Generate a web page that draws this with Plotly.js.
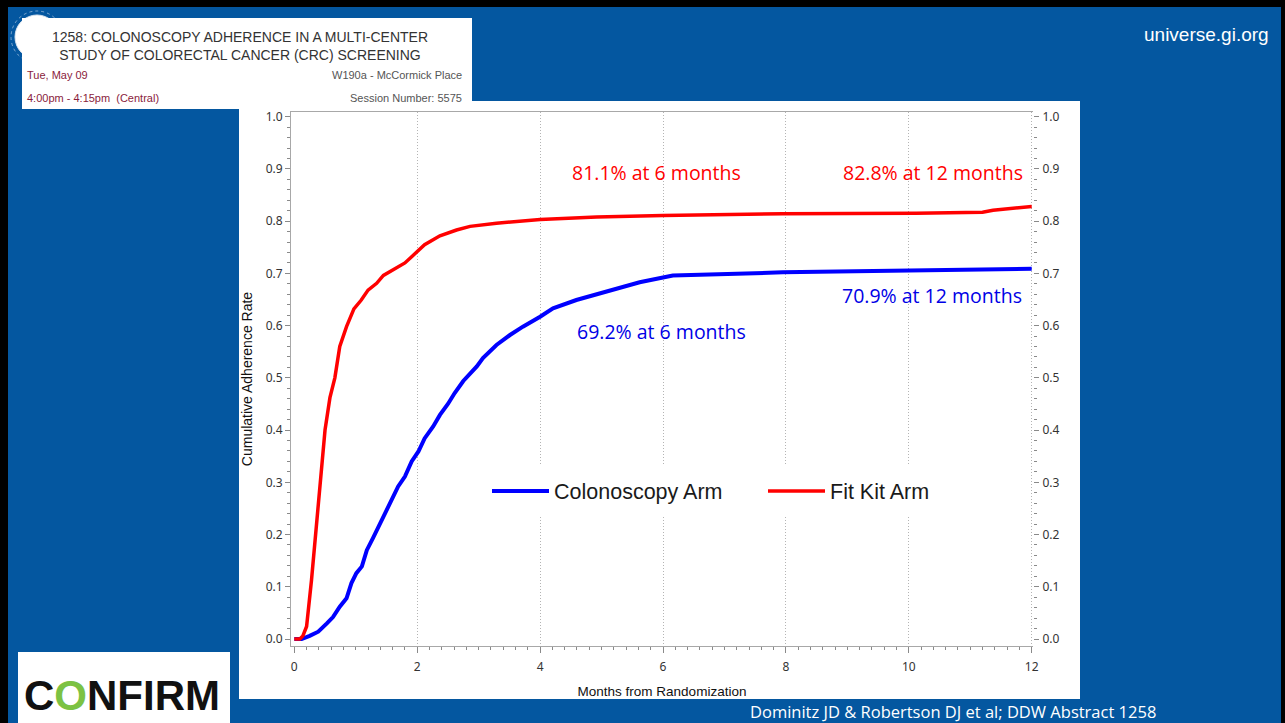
<!DOCTYPE html>
<html>
<head>
<meta charset="utf-8">
<script src="https://cdn.plot.ly/plotly-3.0.1.min.js"></script>
<style>
  html, body { margin: 0; padding: 0; background: #0457a0; }
  #chart { width: 1285px; height: 723px; }
</style>
</head>
<body>
<div id="chart"></div>
<script>
// ---- Data ----
const colonoscopyMonths = [0, 0.12, 0.25, 0.39, 0.53, 0.63, 0.74, 0.85, 0.93, 1.01, 1.10, 1.18, 1.28, 1.37, 1.50, 1.61, 1.69, 1.80, 1.91, 2.02, 2.12, 2.26, 2.37, 2.50, 2.61, 2.75, 2.97, 3.07, 3.29, 3.51, 3.72, 4.00, 4.21, 4.59, 4.92, 5.24, 5.62, 6.00, 6.16, 7.95, 10.12, 12.0];
const colonoscopyRate   = [0, 0, 0.006, 0.014, 0.030, 0.042, 0.062, 0.078, 0.107, 0.126, 0.139, 0.170, 0.193, 0.215, 0.247, 0.270, 0.292, 0.311, 0.340, 0.359, 0.384, 0.407, 0.429, 0.450, 0.471, 0.494, 0.522, 0.538, 0.563, 0.582, 0.598, 0.617, 0.633, 0.649, 0.660, 0.672, 0.683, 0.692, 0.696, 0.702, 0.706, 0.709];

const fitKitMonths = [0, 0.09, 0.14, 0.20, 0.28, 0.37, 0.445, 0.50, 0.58, 0.66, 0.74, 0.85, 0.97, 1.09, 1.20, 1.34, 1.45, 1.66, 1.80, 1.91, 1.99, 2.12, 2.37, 2.64, 2.86, 3.29, 4.00, 4.92, 6.00, 7.95, 10.12, 11.20, 11.37, 11.64, 12.0];
const fitKitRate   = [0, 0, 0.006, 0.024, 0.113, 0.228, 0.337, 0.400, 0.462, 0.500, 0.560, 0.598, 0.632, 0.649, 0.668, 0.681, 0.696, 0.710, 0.720, 0.732, 0.741, 0.755, 0.772, 0.783, 0.790, 0.796, 0.803, 0.808, 0.811, 0.814, 0.815, 0.817, 0.821, 0.824, 0.828];

const seriesNames = ["Colonoscopy Arm", "Fit Kit Arm"];
const xTickVals = [0, 2, 4, 6, 8, 10, 12];
const gridVals = [2, 4, 6, 8, 10, 12];

const calloutText  = ["81.1% at 6 months", "82.8% at 12 months", "69.2% at 6 months", "70.9% at 12 months"];
const calloutX     = [5.90, 11.89, 5.97, 11.87];
const calloutY     = [0.894, 0.894, 0.588, 0.657];

const headerTitle = "1258: COLONOSCOPY ADHERENCE IN A MULTI-CENTER<br>STUDY OF COLORECTAL CANCER (CRC) SCREENING";

// ---- Geometry helpers (pixel -> paper) ----
const W = 1285, H = 723;
const M = {l: 291, r: 252, t: 112, b: 77};
const PW = W - M.l - M.r, PH = H - M.t - M.b;
const px = x => (x - M.l) / PW;
const py = y => (H - M.b - y) / PH;

const xRange = [-0.0537, 12.021];
const yRange = [-0.0134, 1.009];

const axisGray = '#a8a8a8';
const tickGray = '#8a8a8a';
const tickFont = {family: 'Noto Sans, sans-serif', size: 12, color: '#333333'};

const traces = [
  {x: colonoscopyMonths, y: colonoscopyRate, name: seriesNames[0], type: 'scatter', mode: 'lines',
   line: {color: '#0000ff', width: 4}, hoverinfo: 'skip'},
  {x: fitKitMonths, y: fitKitRate, name: seriesNames[1], type: 'scatter', mode: 'lines',
   line: {color: '#ff0000', width: 3.5}, hoverinfo: 'skip'},
  {x: [0], y: [0], xaxis: 'x', yaxis: 'y2', mode: 'lines', showlegend: false, hoverinfo: 'skip', line: {width: 0}},
  {x: [0], y: [0], xaxis: 'x2', yaxis: 'y', mode: 'lines', showlegend: false, hoverinfo: 'skip', line: {width: 0}}
];

function rect(x0, y0, x1, y1, fill, layer) {
  return {type: 'rect', xref: 'paper', yref: 'paper', x0: px(x0), x1: px(x1), y0: py(y1), y1: py(y0),
          fillcolor: fill, line: {width: 0}, layer: layer || 'below'};
}

const shapes = [
  // partly hidden round emblem at the top-left
  {type: 'circle', xref: 'paper', yref: 'paper', x0: px(11), x1: px(63), y0: py(63), y1: py(11),
   fillcolor: 'rgba(0,0,0,0)', line: {color: 'rgba(200,215,235,0.6)', width: 1, dash: 'dot'}, layer: 'below'},
  {type: 'circle', xref: 'paper', yref: 'paper', x0: px(15), x1: px(59), y0: py(59), y1: py(15),
   fillcolor: '#ffffff', line: {color: '#dde6f0', width: 1}, layer: 'below'},
  rect(239, 101, 1080, 699, '#ffffff'),
  rect(22, 18, 472, 109, '#ffffff'),
  rect(18, 652, 230, 723, '#ffffff'),
  rect(0, 0, 1285, 7, '#000000'),
  rect(0, 0, 8, 723, '#000000'),
  rect(1281, 0, 1285, 723, '#000000'),
  // white panel behind legend (covers grid dots)
  rect(478, 466, 950, 516, '#ffffff', 'above')
];

const arial = 'Liberation Sans, Arial, sans-serif';
const calibri = 'Open Sans, sans-serif';

const annotations = [
  {xref: 'paper', yref: 'paper', x: px(240), y: py(46), text: headerTitle, showarrow: false,
   xanchor: 'center', yanchor: 'middle', align: 'center', font: {family: arial, size: 14, color: '#333333'}},
  {xref: 'paper', yref: 'paper', x: px(25), y: py(75), text: 'Tue, May 09', showarrow: false,
   xanchor: 'left', yanchor: 'middle', font: {family: arial, size: 11, color: '#8a1c3c'}},
  {xref: 'paper', yref: 'paper', x: px(25), y: py(98), text: '4:00pm - 4:15pm  (Central)', showarrow: false,
   xanchor: 'left', yanchor: 'middle', font: {family: arial, size: 11, color: '#8a1c3c'}},
  {xref: 'paper', yref: 'paper', x: px(464), y: py(75), text: 'W190a - McCormick Place', showarrow: false,
   xanchor: 'right', yanchor: 'middle', font: {family: arial, size: 11, color: '#555555'}},
  {xref: 'paper', yref: 'paper', x: px(464), y: py(98), text: 'Session Number: 5575', showarrow: false,
   xanchor: 'right', yanchor: 'middle', font: {family: arial, size: 11, color: '#555555'}},
  {xref: 'paper', yref: 'paper', x: px(1271), y: py(34), text: 'universe.gi.org', showarrow: false,
   xanchor: 'right', yanchor: 'middle', font: {family: arial, size: 19, color: '#ffffff'}},
  {xref: 'paper', yref: 'paper', x: px(1157), y: py(723), text: 'Dominitz JD &amp; Robertson DJ et al; DDW Abstract 1258', showarrow: false,
   xanchor: 'right', yanchor: 'bottom', borderpad: 0, yshift: -1, font: {family: calibri, size: 16.5, color: '#ffffff'}},
  {xref: 'paper', yref: 'paper', x: px(122), y: py(695), text: '<b>C<span style="color:#7cc243">O</span>NFIRM</b>', showarrow: false,
   xanchor: 'center', yanchor: 'middle', font: {family: arial, size: 42, color: '#111111'}}
];

const calloutColors = ['#ff0000', '#ff0000', '#0000e6', '#0000e6'];
const calloutAnchor = ['center', 'right', 'center', 'right'];
for (let i = 0; i < calloutText.length; i++) {
  annotations.push({xref: 'x', yref: 'y', x: calloutX[i], y: calloutY[i], text: calloutText[i],
    showarrow: false, xanchor: calloutAnchor[i], yanchor: 'middle',
    font: {family: calibri, size: 19.5, color: calloutColors[i]}});
}

const layout = {
  width: W, height: H,
  margin: M,
  paper_bgcolor: '#0457a0',
  plot_bgcolor: '#ffffff',
  showlegend: true,
  legend: {orientation: 'h', x: px(487), xanchor: 'left', y: py(491), yanchor: 'middle',
           bgcolor: 'rgba(255,255,255,0)', borderwidth: 0, itemwidth: 57,
           entrywidth: 204, entrywidthmode: 'pixels',
           font: {family: arial, size: 21.5, color: '#1a1a1a'}},
  xaxis: {range: xRange, tickvals: xTickVals, showline: true, linecolor: axisGray, linewidth: 1,
          ticks: 'outside', ticklen: 6, tickcolor: tickGray, tickwidth: 1,
          minor: {dtick: 0.2, tick0: 0, ticks: 'outside', ticklen: 3, tickcolor: tickGray, showgrid: false},
          showgrid: false, zeroline: false, tickfont: tickFont, ticklabelstandoff: 4,
          title: {text: 'Months from Randomization', font: {family: arial, size: 13.5, color: '#111111'}, standoff: 12}},
  xaxis2: {range: xRange, overlaying: 'x', side: 'top', tickvals: gridVals, showticklabels: false, ticks: '',
           showgrid: true, gridcolor: '#b4b4b4', griddash: '1px,2px', gridwidth: 1,
           showline: true, linecolor: axisGray, linewidth: 1, zeroline: false},
  yaxis: {range: yRange, dtick: 0.1, tick0: 0, tickformat: '.1f', showline: true, linecolor: axisGray, linewidth: 1,
          ticks: 'outside', ticklen: 5, tickcolor: tickGray, tickwidth: 1,
          minor: {dtick: 0.02, tick0: 0, ticks: 'outside', ticklen: 3, tickcolor: tickGray, showgrid: false},
          showgrid: false, zeroline: false, tickfont: tickFont, ticklabelstandoff: 0,
          title: {text: 'Cumulative Adherence Rate', font: {family: arial, size: 14, color: '#111111'}, standoff: 9}},
  yaxis2: {range: yRange, overlaying: 'y', side: 'right', dtick: 0.1, tick0: 0, tickformat: '.1f',
           showline: false, ticks: 'outside', ticklen: 5, tickcolor: tickGray, tickwidth: 1,
           minor: {dtick: 0.02, tick0: 0, ticks: 'outside', ticklen: 3, tickcolor: tickGray, showgrid: false},
           showgrid: false, zeroline: false, tickfont: tickFont, ticklabelstandoff: 1},
  shapes: shapes,
  annotations: annotations
};

Plotly.newPlot('chart', traces, layout, {displayModeBar: false, staticPlot: true});
</script>
</body>
</html>
